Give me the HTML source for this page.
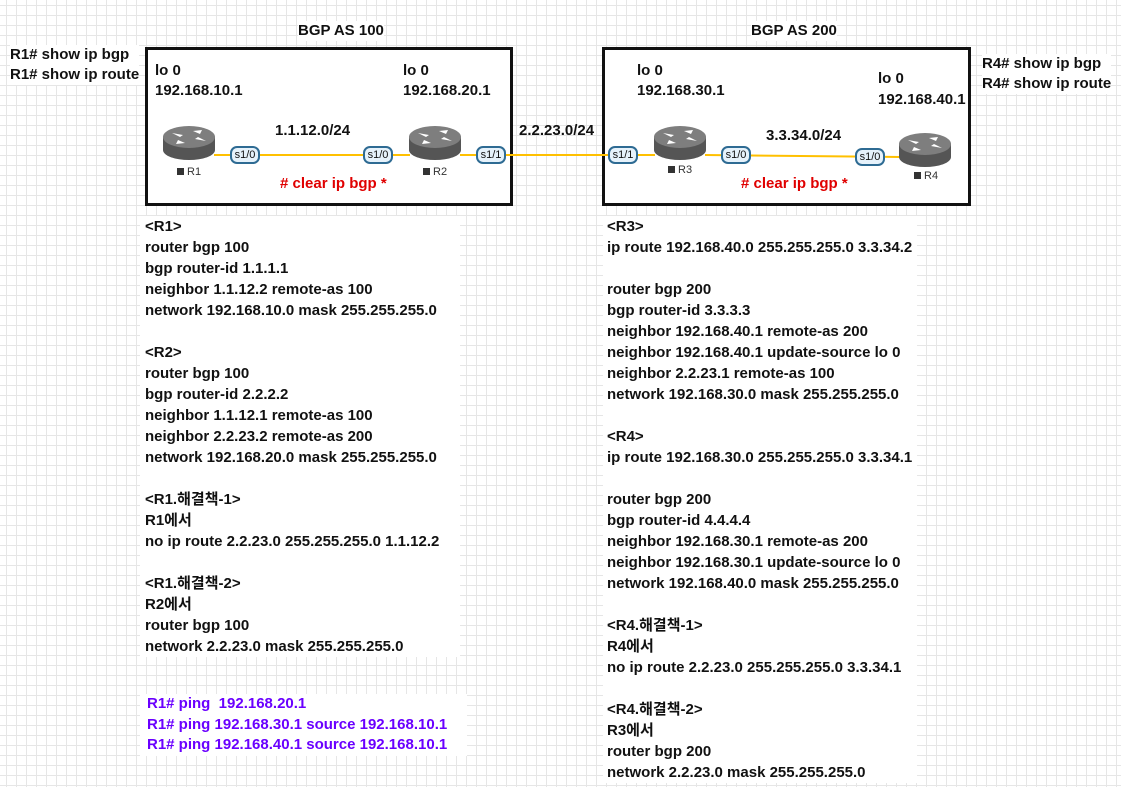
<!DOCTYPE html>
<html><head><meta charset="utf-8">
<style>
html,body{margin:0;padding:0}
body{width:1121px;height:787px;position:relative;overflow:hidden;background-color:#fff;
background-image:linear-gradient(to right,#e6e6e6 1px,transparent 1px),linear-gradient(to bottom,#e6e6e6 1px,transparent 1px);
background-size:10px 10px;background-position:6px 5px;
font-family:"Liberation Sans","Noto Sans CJK KR",sans-serif;font-weight:bold;font-size:15px;color:#111}
.t{position:absolute;white-space:nowrap;line-height:20px;background:#fff}
.blk{position:absolute;white-space:pre;line-height:21px;background:#fff}
.box{position:absolute;border:3px solid #111;background:#fff}
.red{color:#e00000}
.pill{position:absolute;width:26px;height:14px;border:2px solid #2e6b93;border-radius:7px;background:#e6f2fb;font-size:11px;font-weight:normal;text-align:center;line-height:14px;color:#111}
.lbl{position:absolute;font-size:11px;font-weight:normal;color:#333;white-space:nowrap;background:#fff}
.lbl:before{content:"";display:inline-block;width:7px;height:7px;background:#333;margin-right:3px}
</style></head><body>
<div class="t" style="left:298px;top:21px">BGP AS 100</div>
<div class="t" style="left:751px;top:21px">BGP AS 200</div>
<div class="t" style="left:10px;top:45px">R1# show ip bgp<br>R1# show ip route</div>
<div class="t" style="left:982px;top:54px">R4# show ip bgp<br>R4# show ip route</div>

<div class="box" style="left:145px;top:47px;width:362px;height:153px"></div>
<div class="box" style="left:602px;top:47px;width:363px;height:153px"></div>

<svg style="position:absolute;left:0;top:0" width="1121" height="787">
<defs>
<g id="rt">
<path d="M0 11 L0 24 A26 10 0 0 0 52 24 L52 11 Z" fill="#555"/>
<ellipse cx="26" cy="11" rx="26" ry="11" fill="#7e7e7e"/>
<g fill="#fff">
<polygon points="9,7 20,9 17,11"/><polygon points="43,15 32,13 35,11"/>
<polygon points="30,5 39,4 37,8"/><polygon points="22,17 13,18 15,14"/>
</g>
</g>
</defs>
<g stroke="#ffc000" stroke-width="2">
<line x1="214" y1="155" x2="410" y2="155"/>
<line x1="460" y1="155" x2="655" y2="155"/>
<line x1="705" y1="155" x2="900" y2="157"/>
</g>
<use href="#rt" x="163" y="126"/>
<use href="#rt" x="409" y="126"/>
<use href="#rt" x="654" y="126"/>
<use href="#rt" x="899" y="133"/>
</svg>
<div class="pill" style="left:230px;top:146px">s1/0</div>
<div class="pill" style="left:363px;top:146px">s1/0</div>
<div class="pill" style="left:476px;top:146px">s1/1</div>
<div class="pill" style="left:608px;top:146px">s1/1</div>
<div class="pill" style="left:721px;top:146px">s1/0</div>
<div class="pill" style="left:855px;top:148px">s1/0</div>
<div class="lbl" style="left:177px;top:166px">R1</div>
<div class="lbl" style="left:423px;top:166px">R2</div>
<div class="lbl" style="left:668px;top:164px">R3</div>
<div class="lbl" style="left:914px;top:170px">R4</div>

<div class="t" style="left:155px;top:61px;background:none">lo 0</div>
<div class="t" style="left:155px;top:81px;background:none">192.168.10.1</div>
<div class="t" style="left:403px;top:61px;background:none">lo 0</div>
<div class="t" style="left:403px;top:81px;background:none">192.168.20.1</div>
<div class="t" style="left:275px;top:121px;background:none">1.1.12.0/24</div>
<div class="t red" style="left:280px;top:174px;background:none"># clear ip bgp *</div>
<div class="t" style="left:519px;top:121px;background:none">2.2.23.0/24</div>
<div class="t" style="left:637px;top:61px;background:none">lo 0</div>
<div class="t" style="left:637px;top:81px;background:none">192.168.30.1</div>
<div class="t" style="left:878px;top:69px;background:none">lo 0</div>
<div class="t" style="left:878px;top:90px;background:none">192.168.40.1</div>
<div class="t" style="left:766px;top:126px;background:none">3.3.34.0/24</div>
<div class="t red" style="left:741px;top:174px;background:none"># clear ip bgp *</div>

<div class="blk" style="left:140px;top:216px;width:315px;padding-left:5px">&lt;R1&gt;
router bgp 100
bgp router-id 1.1.1.1
neighbor 1.1.12.2 remote-as 100
network 192.168.10.0 mask 255.255.255.0

&lt;R2&gt;
router bgp 100
bgp router-id 2.2.2.2
neighbor 1.1.12.1 remote-as 100
neighbor 2.2.23.2 remote-as 200
network 192.168.20.0 mask 255.255.255.0

&lt;R1.해결책-1&gt;
R1에서
no ip route 2.2.23.0 255.255.255.0 1.1.12.2

&lt;R1.해결책-2&gt;
R2에서
router bgp 100
network 2.2.23.0 mask 255.255.255.0</div>

<div class="blk" style="left:140px;top:694px;line-height:20.5px;color:#6a00ff;padding-left:7px;width:320px">R1# ping  192.168.20.1
R1# ping 192.168.30.1 source 192.168.10.1
R1# ping 192.168.40.1 source 192.168.10.1</div>

<div class="blk" style="left:603px;top:216px;width:310px;padding-left:4px">&lt;R3&gt;
ip route 192.168.40.0 255.255.255.0 3.3.34.2

router bgp 200
bgp router-id 3.3.3.3
neighbor 192.168.40.1 remote-as 200
neighbor 192.168.40.1 update-source lo 0
neighbor 2.2.23.1 remote-as 100
network 192.168.30.0 mask 255.255.255.0

&lt;R4&gt;
ip route 192.168.30.0 255.255.255.0 3.3.34.1

router bgp 200
bgp router-id 4.4.4.4
neighbor 192.168.30.1 remote-as 200
neighbor 192.168.30.1 update-source lo 0
network 192.168.40.0 mask 255.255.255.0

&lt;R4.해결책-1&gt;
R4에서
no ip route 2.2.23.0 255.255.255.0 3.3.34.1

&lt;R4.해결책-2&gt;
R3에서
router bgp 200
network 2.2.23.0 mask 255.255.255.0</div>
</body></html>
